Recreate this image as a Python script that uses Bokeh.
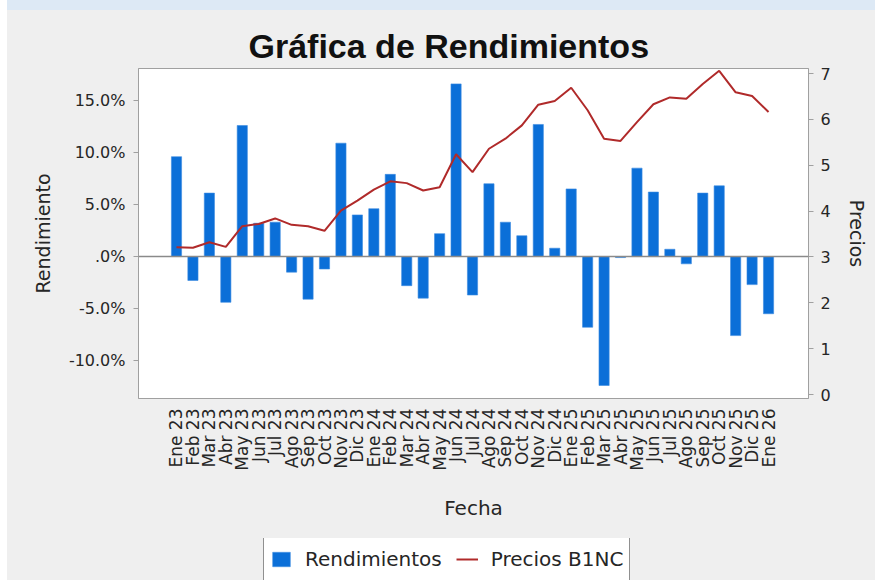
import math
from bokeh.plotting import figure
from bokeh.models import (Range1d, LinearAxis, FixedTicker, Span, Legend, LegendItem,
                          Div, ColumnDataSource)
from bokeh.layouts import column
from bokeh.embed import file_html
from bokeh.resources import INLINE

meses = ["Ene 23", "Feb 23", "Mar 23", "Abr 23", "May 23", "Jun 23", "Jul 23", "Ago 23",
         "Sep 23", "Oct 23", "Nov 23", "Dic 23",
         "Ene 24", "Feb 24", "Mar 24", "Abr 24", "May 24", "Jun 24", "Jul 24", "Ago 24",
         "Sep 24", "Oct 24", "Nov 24", "Dic 24",
         "Ene 25", "Feb 25", "Mar 25", "Abr 25", "May 25", "Jun 25", "Jul 25", "Ago 25",
         "Sep 25", "Oct 25", "Nov 25", "Dic 25",
         "Ene 26"]

rendimientos = [9.6, -2.3, 6.1, -4.4, 12.6, 3.2, 3.3, -1.5, -4.1, -1.2, 10.9, 4.0,
                4.6, 7.9, -2.8, -4.0, 2.2, 16.6, -3.7, 7.0, 3.3, 2.0, 12.7, 0.8,
                6.5, -6.8, -12.4, -0.1, 8.5, 6.2, 0.7, -0.7, 6.1, 6.8, -7.6, -2.7,
                -5.5]

precios = [3.21, 3.20, 3.32, 3.22, 3.67, 3.72, 3.84, 3.70, 3.67, 3.57, 4.01, 4.23,
           4.47, 4.65, 4.61, 4.45, 4.52, 5.24, 4.85, 5.36, 5.58, 5.87, 6.32, 6.40,
           6.69, 6.20, 5.58, 5.53, 5.94, 6.33, 6.48, 6.45, 6.77, 7.06, 6.59, 6.51,
           6.16]

ticks_rend = [-10, -5, 0, 5, 10, 15]
labels_rend = ["-10.0%", "-5.0%", ".0%", "5.0%", "10.0%", "15.0%"]
ticks_precio = [0, 1, 2, 3, 4, 5, 6, 7]

idx = list(range(len(meses)))
src = ColumnDataSource(dict(x=idx, r=rendimientos, p=precios, m=meses))

FONT = "DejaVu Sans"
TXT = "#262626"
BAR_FILL = "#0b6fd8"
BAR_LINE = "#3d8ce0"
LINE_COL = "#b02a2a"
BG = "#efefef"

p = figure(width=868, height=528, output_backend="svg", toolbar_location=None,
           x_range=Range1d(-2.31, 38.43), y_range=Range1d(-13.65, 18.08),
           min_border_left=131, min_border_right=67, min_border_top=58,
           min_border_bottom=140)
p.extra_y_ranges = {"precio": Range1d(-0.087, 7.11)}

p.background_fill_color = "white"
p.border_fill_color = BG
p.outline_line_color = "#a0a0a0"
p.outline_line_width = 1
p.xgrid.visible = False
p.ygrid.visible = False

p.title.text = "Gráfica de Rendimientos"
p.title.text_font = "Liberation Sans"
p.title.text_font_style = "bold"
p.title.text_font_size = "34px"
p.title.text_color = "#111111"
p.title.align = "left"
p.title.offset = 110
p.title.standoff = 8

zero = Span(location=0, dimension="width", line_color="#8a8a8a", line_width=1.5)
p.add_layout(zero)

bars = p.vbar(x="x", top="r", bottom=0, width=0.62, source=src,
              fill_color=BAR_FILL, line_color=BAR_LINE, line_width=0.6)
line = p.line(x="x", y="p", source=src, y_range_name="precio",
              line_color=LINE_COL, line_width=2)

# x axis
xa = p.xaxis[0]
xa.ticker = FixedTicker(ticks=idx)
xa.major_label_overrides = {i: m for i, m in zip(idx, meses)}
xa.major_label_orientation = math.pi / 2
xa.major_label_text_font = FONT
xa.major_label_text_font_size = "17px"
xa.major_label_text_color = TXT
xa.major_label_standoff = 4
xa.major_tick_line_color = None
xa.minor_tick_line_color = None
xa.axis_line_color = None
xa.axis_label = "Fecha"
xa.axis_label_text_font = FONT
xa.axis_label_text_font_size = "20px"
xa.axis_label_text_font_style = "normal"
xa.axis_label_text_color = TXT
xa.axis_label_standoff = 22

# left axis
ya = p.yaxis[0]
ya.ticker = FixedTicker(ticks=ticks_rend)
ya.major_label_overrides = {t: l for t, l in zip(ticks_rend, labels_rend)}
ya.major_label_text_font = FONT
ya.major_label_text_font_size = "16px"
ya.major_label_text_color = TXT
ya.major_label_standoff = 8
ya.major_tick_out = 5
ya.major_tick_in = 0
ya.major_tick_line_color = "#a0a0a0"
ya.minor_tick_line_color = None
ya.axis_line_color = "#a0a0a0"
ya.axis_label = "Rendimiento"
ya.axis_label_text_font = FONT
ya.axis_label_text_font_size = "19px"
ya.axis_label_text_font_style = "normal"
ya.axis_label_text_color = TXT
ya.axis_label_standoff = 12

# right axis
ra = LinearAxis(y_range_name="precio", ticker=FixedTicker(ticks=ticks_precio),
                axis_label="Precios")
ra.major_label_text_font = FONT
ra.major_label_text_font_size = "16px"
ra.major_label_text_color = TXT
ra.major_label_standoff = 7
ra.major_tick_out = 5
ra.major_tick_in = 0
ra.major_tick_line_color = "#a0a0a0"
ra.minor_tick_line_color = None
ra.axis_line_color = "#a0a0a0"
ra.axis_label_text_font = FONT
ra.axis_label_text_font_size = "19px"
ra.axis_label_text_font_style = "normal"
ra.axis_label_text_color = TXT
ra.axis_label_standoff = 12
p.add_layout(ra, "right")

# legend strip (separate small figure so the legend is not clipped by the main frame);
# its ranges lie away from the data, so its renderers only feed the legend glyphs
pl = figure(width=868, height=42, output_backend="svg", toolbar_location=None,
            x_axis_type=None, y_axis_type=None, min_border=0,
            x_range=Range1d(1000, 1001), y_range=Range1d(1000, 1001))
pl.background_fill_alpha = 0
pl.border_fill_alpha = 0
pl.outline_line_color = None
pl.xgrid.visible = False
pl.ygrid.visible = False
lb = pl.vbar(x="x", top="r", bottom=0, width=0.62, source=src,
             fill_color=BAR_FILL, line_color=BAR_LINE, line_width=0.6)
ll = pl.line(x="x", y="p", source=src, line_color=LINE_COL, line_width=2)

legend = Legend(items=[LegendItem(label="Rendimientos", renderers=[lb]),
                       LegendItem(label="Precios B1NC", renderers=[ll])],
                location=(125, -3), orientation="horizontal")
legend.label_text_font = FONT
legend.label_text_font_size = "20px"
legend.label_text_color = TXT
legend.glyph_width = 22
legend.glyph_height = 18
legend.label_height = 34
legend.label_standoff = 13
legend.spacing = 14
legend.padding = 6
legend.margin = 0
legend.border_line_color = "#222222"
legend.border_line_width = 1
legend.background_fill_color = "white"
legend.background_fill_alpha = 1
pl.add_layout(legend, "center")

band = Div(text="", width=868, height=10, margin=0,
           styles={"background-color": "#dde9f5"})
layout = column(band, p, pl, margin=(0, 0, 0, 7), spacing=0,
                styles={"background-color": BG})

open("out.html", "w").write(file_html(layout, INLINE))
